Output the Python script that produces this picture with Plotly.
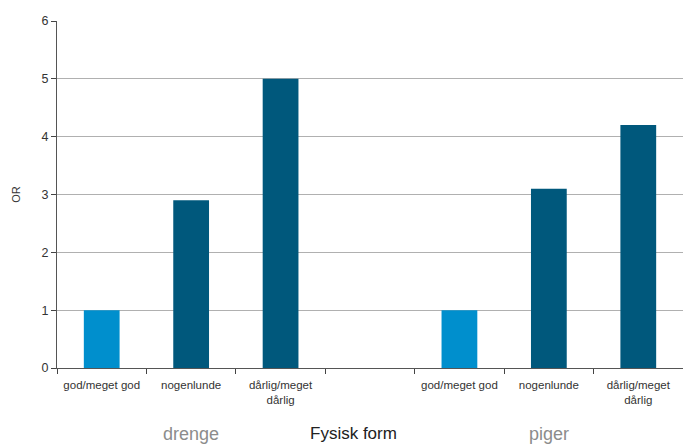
import plotly.graph_objects as go

categories = ["god/meget god", "nogenlunde", "dårlig/meget<br>dårlig", "",
              "god/meget god", "nogenlunde", "dårlig/meget<br>dårlig"]
values = [1.0, 2.9, 5.0, None, 1.0, 3.1, 4.2]
bar_colors = ["#008FCD", "#00587C", "#00587C", "#00587C", "#008FCD", "#00587C", "#00587C"]
group_labels = ["drenge", "piger"]
group_positions = [1, 5]
y_ticks = [0, 1, 2, 3, 4, 5, 6]

xs = list(range(len(categories)))

fig = go.Figure()
fig.add_trace(go.Bar(x=xs, y=values, width=0.4, marker=dict(color=bar_colors, line=dict(width=0)),
                     showlegend=False, hoverinfo="y"))

fig.update_layout(
    width=683, height=447,
    margin=dict(l=57, r=0, t=21, b=79),
    paper_bgcolor="white", plot_bgcolor="white",
    font=dict(family="Liberation Sans, Arial, sans-serif", color="#333333"),
    xaxis=dict(
        range=[-0.5, len(categories) - 0.5],
        tickmode="array", tickvals=xs, ticktext=categories,
        ticks="", showgrid=False, zeroline=False,
        showline=True, linecolor="#555555", linewidth=1,
        tickfont=dict(size=11.5, color="#333333"),
        ticklabelstandoff=6,
        minor=dict(tick0=-0.5, dtick=1, ticks="outside", ticklen=5, tickcolor="#444444", tickwidth=1, showgrid=False),
    ),
    yaxis=dict(
        range=[0, 6], tickmode="array", tickvals=y_ticks,
        showgrid=True, gridcolor="#B0B0B0", gridwidth=1,
        zeroline=False, showline=True, linecolor="#555555", linewidth=1,
        ticks="outside", ticklen=5, tickcolor="#444444",
        tickfont=dict(size=12.5, color="#333333"),
        title=dict(text="OR", font=dict(size=11, color="#333333"), standoff=18),
    ),
    bargap=0.6,
)

for lbl, pos in zip(group_labels, group_positions):
    fig.add_annotation(x=pos, y=-0.19, xref="x", yref="paper", text=lbl, showarrow=False,
                       font=dict(size=18, color="#8C8C8C"), yanchor="middle")

fig.add_annotation(x=3 - 0.19, y=-0.188, xref="x", yref="paper", text="Fysisk form", showarrow=False,
                   font=dict(size=17, color="#222222"), yanchor="middle")

fig.write_html("out.html", config={"displayModeBar": False},
               post_script="document.body.style.margin='0';document.body.style.overflow='hidden';")
